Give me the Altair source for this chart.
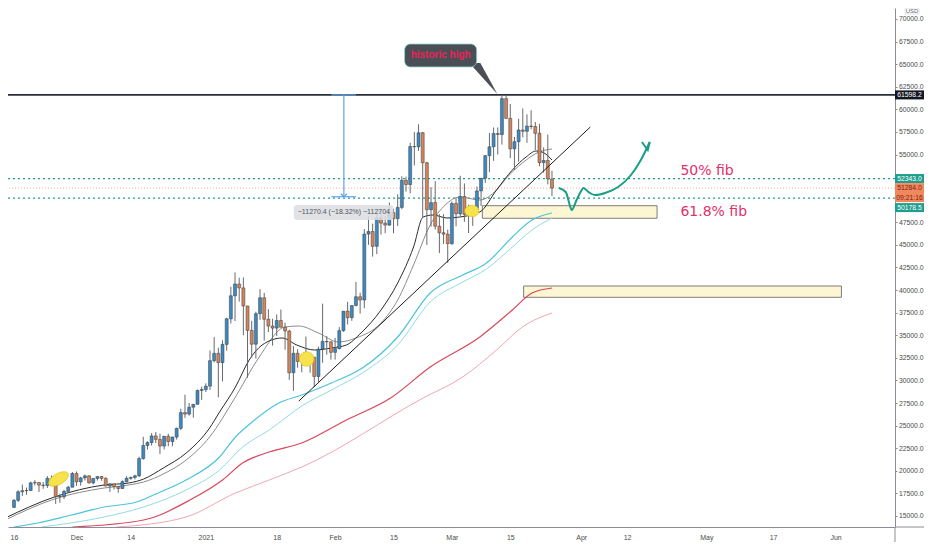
import altair as alt
import pandas as pd

# ---------------- data ----------------
START = "2020-11-16"
OPEN = [15955,16730,17680,17800,17820,18660,18700,18420,18370,19160,18740,17150,17140,17720,18180,
        19700,18780,19210,19440,18660,19150,19360,19170,18320,18550,18250,18040,18800,19170,19270,
        19440,21350,22800,23130,23860,23480,22740,23820,23240,23730,24700,26440,26280,27040,27360,28890,
        28990,29370,32190,33000,31970,33990,36820,39370,40670,40240,38240,35540,34010,37390,39150,36770,
        36020,35790,36630,35890,35470,30850,33000,32100,32270,32370,32570,30440,33470,34320,34270,
        33110,33520,35510,37670,36950,38290,39260,38900,46200,46480,44840,47990,47410,47190,48580,
        47900,49150,52150,51680,55890,55850,57410,54090,48890,49680,47070,46340,46190,
        45140,49590,48440,50350,48370,48760,48880,50970,52380,54880,55860,57330,57220,61190,59000,
        55630,56420,57720,57570,58150,58100,57350,54100,54340,52300]
HIGH = [16880,17850,18480,18150,18800,18970,18740,18760,19420,19490,19250,17450,17880,18330,19860,
        19920,19330,19580,19530,19170,19410,19420,19280,18640,18560,18270,18940,19400,19340,19570,
        21560,23770,23280,24170,24290,24100,23840,24100,23780,24770,26870,28420,27500,27390,28990,29300,
        29680,33300,34800,33620,34440,36940,40360,41950,41370,41400,38260,36600,37600,40100,39700,37890,
        36820,37300,37850,36400,35600,33800,33450,32950,34860,32900,32580,33750,38500,34900,34330,
        34700,35900,37650,38700,38300,40900,39700,46750,48200,47350,48650,48950,48200,49700,
        49000,50600,52600,52550,56300,57500,58350,57500,54200,51400,52050,48400,48400,46700,
        49800,50200,52650,51800,49450,49200,51450,52400,54900,57400,58000,58000,61598,61500,
        60600,56950,58950,60100,59450,59900,58600,58400,55800,57200,53200]
LOW = [15870,16550,17220,17350,17760,18380,17650,18000,18100,18570,16330,16460,16870,17530,18180,
       18330,18350,18920,18580,18500,18920,18900,18250,17660,17920,17580,18020,18730,19000,19050,
       19300,21230,22350,22800,23070,21850,22360,22720,22710,23460,24500,25860,26100,25880,27340,27850,
       28720,28950,32000,28130,29900,33300,36300,36570,38720,35000,30300,32530,32420,36700,34400,35360,
       33850,34900,35870,33400,30070,28850,31400,30900,31900,30850,29250,29850,31950,32850,32300,
       32300,33430,35380,36200,36600,38200,37400,37990,45000,43700,43980,46150,46300,47100,
       46300,47100,48950,50900,50700,53800,55400,48000,45000,47000,46700,44100,45100,43000,
       45000,47050,48150,47550,46300,47100,48880,49300,51850,53050,54300,55000,56100,59000,
       54600,53300,54200,56900,56300,57800,55500,53700,53000,51700,50400]
CLOSE = [16730,17680,17800,17820,18660,18700,18420,18370,19160,18740,17150,17140,17720,18180,19700,
         18780,19210,19440,18660,19150,19360,19170,18320,18550,18250,18040,18800,19170,19270,19440,
         21350,22800,23130,23860,23480,22740,23820,23240,23730,24700,26440,26280,27040,27360,28890,28990,
         29370,32190,33000,31970,33990,36820,39370,40670,40240,38240,35540,34010,37390,39150,36770,36020,
         35790,36630,35890,35470,30850,33000,32100,32270,32370,32570,30440,33470,34320,34270,33110,
         33520,35510,37670,36950,38290,39260,38900,46200,46480,44840,47990,47410,47190,48580,
         47900,49150,52150,51680,55890,55850,57410,54090,48890,49680,47070,46340,46190,45140,
         49590,48440,50350,48370,48760,48880,50970,52380,54880,55860,57330,57220,61190,59000,
         55630,56420,57720,57570,58150,58100,57350,54100,54340,52300,51284]

# moving averages (day offset from START, price)
FAST_DAY = [-2.1, 9.7, 21.6, 27.5, 31.1, 35.8, 41.3, 46.9, 49.3, 53.1, 56.4, 59.5, 64.3, 67.8, 72.1, 76.1,
            79.7, 83.2, 88.0, 92.0, 95.8, 98.1, 100.5, 103.8, 106.9, 111.7, 115.7, 119.5, 122.8, 125.2, 127.1, 129.0]
FAST_VAL = [14776, 17100, 18428, 18649, 19092, 20309, 21969, 24736, 26507, 29273, 32262, 33922, 34696, 33922,
            33368, 33590, 33922, 35250, 37795, 40783, 44767, 48087, 48309, 47977, 48087, 48641, 51075, 53289,
            54728, 55392, 55170, 54396]
SLOW_DAY = [-2.1, 9.7, 21.6, 27.5, 31.1, 35.8, 41.3, 46.9, 53.1, 58.8, 65.0, 68.3, 73.0, 77.8, 82.0, 88.0,
            92.0, 95.8, 99.8, 103.4, 106.9, 111.7, 115.7, 118.1, 121.9, 125.9, 129.0]
SLOW_VAL = [14554, 16877, 18096, 18428, 18760, 19645, 21195, 23740, 28167, 32594, 35914, 36024, 35250, 34254,
            34696, 36357, 38902, 42775, 47202, 49415, 50301, 49969, 51075, 52403, 54064, 55281, 55613]
CYAN1_DAY = [0, 5.7, 13.75, 21.6, 29.4, 33.4, 41.25, 49.3, 53.1, 57.1, 63.5, 69.0, 76.1, 83.9, 92.0, 99.8,
             107.6, 113.3, 119.5, 124.2, 129.0]
CYAN1_VAL = [13780, 14222, 15108, 15993, 16546, 17321, 18981, 21527, 23740, 25400, 27503, 28388, 29716, 31487,
             34807, 39676, 41668, 42997, 45874, 47755, 48530]
CYAN2_DAY = [6.64, 21.6, 31.06, 41.25, 49.3, 54.8, 61.2, 69.0, 76.1, 83.9, 92.0, 99.8, 107.6, 113.3, 119.5,
             124.2, 129.0]
CYAN2_VAL = [13780, 14886, 15993, 17874, 20087, 22632, 24515, 27171, 28941, 30934, 33922, 38680, 40894, 42333,
             44767, 46649, 47977]
RED_DAY = [13.99, 31.06, 42.2, 50.0, 54.8, 61.2, 69.0, 79.7, 90.3, 99.8, 111.7, 119.5, 124.2, 129.0]
RED_VAL = [13780, 14554, 16767, 18981, 20862, 22079, 23075, 25621, 28056, 31487, 34807, 37795, 39676, 40230]
PINK_DAY = [24.66, 41.25, 53.1, 61.2, 69.0, 98.1, 107.6, 115.7, 121.9, 129.0]
PINK_VAL = [13780, 14886, 17542, 18981, 20419, 28056, 30380, 33368, 35914, 37464]

# drawings
TREND_DAY = [68.3, 138.2]
TREND_VAL = [27724, 58048]
ZONE_T1 = [112.3, 122.2]
ZONE_T2 = [154.2, 198.4]
ZONE_TOP = [49338, 40451]
ZONE_BOT = [47944, 39200]
ARROW_DAY = [130.63, 132.29, 133.48, 133.71, 134.90, 135.85, 136.56, 137.74, 139.40, 141.77, 144.86,
             147.94, 150.31, 152.45]
ARROW_VAL = [51297, 50854, 49083, 48862, 49969, 50854, 51297, 50854, 50522, 50744, 51408, 52735, 54396, 56388]
HEAD_DAY = [150.55, 152.45, 151.97]
HEAD_VAL = [56388, 56388, 55502]
ELL_DAY = [10.67, 70.2, 109.8]
ELL_VAL = [19092, 32372, 48751]
FIB_TEXT = ["50% fib", "61.8% fib"]
FIB_DAY = [159.8, 159.8]
FIB_VAL = [53178, 48641]
ATH = 61598.2
FIB50 = 52343.0
FIB618 = 50178.5
LAST = 51284.0
MEAS_DAY = 79.1
MEAS_CAP = [76.1, 82.0]
MEAS_BOT = 50328
MEAS_BOX_DAY = [67.1, 91.0]
MEAS_BOX_VAL = [49415, 47755]
MEAS_TEXT = "\u221211270.4 (\u221218.32%) \u2212112704"
MEAS_TEXT_VAL = 48641
CALL_DAY = [93.65, 110.95]
CALL_VAL = [67233, 64688]
CALL_TEXT = "historic high"
CALL_TIP_DAY = 115.9
CALL_TIP_VAL = 61700
TAG_VAL = [ATH, FIB50, LAST, FIB618]
TAG_TEXT = ["61598.2", "52343.0", "51284.0", "50178.5"]
TIMER_TEXT = "09:21:16"
TICK_DATES = ["2020-11-16", "2020-12-01", "2020-12-14", "2021-01-01", "2021-01-18", "2021-02-01",
              "2021-02-15", "2021-03-01", "2021-03-15", "2021-04-01", "2021-04-12", "2021-05-01",
              "2021-05-17", "2021-06-01"]
TICK_LABELS = ["16", "Dec", "14", "2021", "18", "Feb", "15", "Mar", "15", "Apr", "12", "May", "17", "Jun"]
# axis labels that stay visible (52500 and 50000 sit under the price tags)
Y_TICKS = [15000, 17500, 20000, 22500, 25000, 27500, 30000, 32500, 35000, 37500, 40000, 42500, 45000,
           47500, 55000, 57500, 60000, 62500, 65000, 67500, 70000]

# ---------------- layout / styles ----------------
W, H = 887, 519
YMIN, YMAX = 13780, 71217
USD_PX = (YMAX - YMIN) / H
FONT = "Liberation Sans"
UP, DOWN = "#3b8ac4", "#d3845a"

BASE = pd.Timestamp(START)


def at(days):
    return [(BASE + pd.Timedelta(days=float(d))).strftime("%Y-%m-%dT%H:%M:%S") for d in days]


XS = alt.Scale(domain=[alt.DateTime(year=2020, month=11, date=15, hours=18, minutes=19),
                       alt.DateTime(year=2021, month=6, date=14, hours=1, minutes=12)], nice=False)
YS = alt.Scale(domain=[YMIN, YMAX], nice=False, zero=False)

parts = []
for d, lab in zip(TICK_DATES, TICK_LABELS):
    ts = pd.Timestamp(d)
    parts.append(f"(month(datum.value)=={ts.month - 1} && date(datum.value)=={ts.day}) ? '{lab}'")
label_expr = " : ".join(parts) + " : ''"

XAX = alt.Axis(values=[alt.DateTime(year=pd.Timestamp(d).year, month=pd.Timestamp(d).month,
                                    date=pd.Timestamp(d).day) for d in TICK_DATES],
               labelExpr=label_expr, ticks=False, grid=False, title=None, labelFontSize=7,
               labelFont=FONT, labelColor="#4a4a4a", domainColor="#8a8d96", labelPadding=6,
               labelFlush=False, labelOverlap=False)
YAX = alt.Axis(orient="right", values=Y_TICKS, format=".1f", grid=False, title=None, labelFontSize=6.8,
               labelFont=FONT, labelColor="#4a4a4a", domainColor="#8a8d96", tickColor="#8a8d96",
               tickSize=2, labelPadding=1.5, labelFlush=False, labelOverlap=False)


def X(f):
    return alt.X(f, type="temporal", scale=XS, axis=XAX)


def Y(f):
    return alt.Y(f, type="quantitative", scale=YS, axis=YAX)


# ---------------- tables ----------------
candles = pd.DataFrame({"t": at(range(len(CLOSE))), "o": OPEN, "h": HIGH, "l": LOW, "c": CLOSE})
candles["dir"] = ["up" if c >= o else "down" for o, c in zip(OPEN, CLOSE)]

ma_specs = [
    (CYAN2_DAY, CYAN2_VAL, "#93dbe6", 1.0),
    (CYAN1_DAY, CYAN1_VAL, "#4cc3dc", 1.2),
    (PINK_DAY, PINK_VAL, "#f3a6b0", 1.0),
    (RED_DAY, RED_VAL, "#d9475c", 1.2),
    (SLOW_DAY, SLOW_VAL, "#8c8c8c", 1.0),
    (FAST_DAY, FAST_VAL, "#2b2b2b", 1.0),
]

layers = []

# yellow zones
zones = pd.DataFrame({"t1": at(ZONE_T1), "t2": at(ZONE_T2), "top": ZONE_TOP, "bot": ZONE_BOT})
layers.append(alt.Chart(zones).mark_rect(fill="#fcf6d3", stroke="#7d7d7d", strokeWidth=1).encode(
    x=X("t1"), x2=alt.X2("t2"), y=Y("top"), y2=alt.Y2("bot")))

# horizontal levels
layers.append(alt.Chart(pd.DataFrame({"v": [LAST]})).mark_rule(
    color="#ef9c84", strokeWidth=0.8, strokeDash=[1, 2]).encode(y=Y("v")))
layers.append(alt.Chart(pd.DataFrame({"v": [FIB50, FIB618]})).mark_rule(
    color="#1f9e8e", strokeWidth=1.3, strokeDash=[2, 3]).encode(y=Y("v")))
layers.append(alt.Chart(pd.DataFrame({"v": [ATH]})).mark_rule(
    color="#2a2e39", strokeWidth=1.8).encode(y=Y("v")))

# moving averages
for days, vals, col, sw in ma_specs:
    df = pd.DataFrame({"t": at(days), "v": vals})
    layers.append(alt.Chart(df).mark_line(color=col, strokeWidth=sw, clip=True,
                                          interpolate="monotone").encode(x=X("t"), y=Y("v")))

# candles
layers.append(alt.Chart(candles).mark_rule(color="#666a70", strokeWidth=1).encode(
    x=X("t"), y=Y("l"), y2=alt.Y2("h")))
layers.append(alt.Chart(candles).mark_bar(size=3, stroke="#3a3a3a", strokeWidth=0.5).encode(
    x=X("t"), y=Y("o"), y2=alt.Y2("c"),
    color=alt.Color("dir:N", scale=alt.Scale(domain=["up", "down"], range=[UP, DOWN]), legend=None)))

# trend line
trend = pd.DataFrame({"t": at(TREND_DAY), "v": TREND_VAL})
layers.append(alt.Chart(trend).mark_line(color="#1e1e1e", strokeWidth=1).encode(x=X("t"), y=Y("v")))

# ellipses
ell_shapes = [("M -1 0 A 1 0.5 0 1 0 1 0 A 1 0.5 0 1 0 -1 0 Z", 480, 330),
              ("M -1 0 A 1 1 0 1 0 1 0 A 1 1 0 1 0 -1 0 Z", 210, 0),
              ("M -1 0 A 1 0.8 0 1 0 1 0 A 1 0.8 0 1 0 -1 0 Z", 200, 0)]
for (shp, sz, ang), d, v in zip(ell_shapes, ELL_DAY, ELL_VAL):
    df = pd.DataFrame({"t": at([d]), "v": [v]})
    layers.append(alt.Chart(df).mark_point(shape=shp, size=sz, angle=ang, filled=True, opacity=1,
                                           fill="#f7e24b", stroke="#d8bd10", strokeWidth=0.6).encode(
        x=X("t"), y=Y("v")))

# green arrow
arrow = pd.DataFrame({"t": at(ARROW_DAY), "v": ARROW_VAL})
layers.append(alt.Chart(arrow).mark_line(color="#1a9e85", strokeWidth=2, interpolate="monotone").encode(
    x=X("t"), y=Y("v")))
head = pd.DataFrame({"t": at(HEAD_DAY), "v": HEAD_VAL})
layers.append(alt.Chart(head).mark_line(color="#1a9e85", strokeWidth=2).encode(x=X("t"), y=Y("v")))

# fib labels
fib = pd.DataFrame({"t": at(FIB_DAY), "v": FIB_VAL, "s": FIB_TEXT})
layers.append(alt.Chart(fib).mark_text(align="left", baseline="middle", font="DejaVu Sans", fontSize=14,
                                       color="#e2306c").encode(x=X("t"), y=Y("v"), text="s:N"))

# measurement tool
meas_v = pd.DataFrame({"t": at([MEAS_DAY]), "a": [ATH], "b": [MEAS_BOT]})
layers.append(alt.Chart(meas_v).mark_rule(color="#5ea3ec", strokeWidth=1.2).encode(
    x=X("t"), y=Y("a"), y2=alt.Y2("b")))
meas_c = pd.DataFrame({"t1": at([MEAS_CAP[0]] * 2), "t2": at([MEAS_CAP[1]] * 2), "v": [ATH, MEAS_BOT]})
layers.append(alt.Chart(meas_c).mark_rule(color="#5ea3ec", strokeWidth=1.2).encode(
    x=X("t1"), x2=alt.X2("t2"), y=Y("v")))
meas_p = pd.DataFrame({"t": at([MEAS_DAY]), "v": [MEAS_BOT]})
layers.append(alt.Chart(meas_p).mark_point(shape="M -1 -1 L 0 0 L 1 -1", size=36, filled=False, opacity=1,
                                           color="#5ea3ec", strokeWidth=1.2).encode(x=X("t"), y=Y("v")))
meas_box = pd.DataFrame({"t1": at([MEAS_BOX_DAY[0]]), "t2": at([MEAS_BOX_DAY[1]]),
                         "a": [MEAS_BOX_VAL[0]], "b": [MEAS_BOX_VAL[1]]})
layers.append(alt.Chart(meas_box).mark_rect(fill="#dcdee3", opacity=0.88, cornerRadius=3).encode(
    x=X("t1"), x2=alt.X2("t2"), y=Y("a"), y2=alt.Y2("b")))
meas_t = pd.DataFrame({"t": at([MEAS_DAY]), "v": [MEAS_TEXT_VAL], "s": [MEAS_TEXT]})
layers.append(alt.Chart(meas_t).mark_text(align="center", baseline="middle", font=FONT, fontSize=7,
                                          color="#50535e").encode(x=X("t"), y=Y("v"), text="s:N"))

# callout
tip = pd.DataFrame({"t": at([CALL_TIP_DAY]), "v": [CALL_TIP_VAL]})
layers.append(alt.Chart(tip).mark_point(shape="M 0 0 L -2.8 -3.1 L -1.7 -3.1 Z", size=400, filled=True,
                                        opacity=1, fill="#4a4f55").encode(x=X("t"), y=Y("v")))
call = pd.DataFrame({"t1": at([CALL_DAY[0]]), "t2": at([CALL_DAY[1]]), "a": [CALL_VAL[0]], "b": [CALL_VAL[1]]})
layers.append(alt.Chart(call).mark_rect(fill="#4a4f55", stroke="#8fd9d2", strokeWidth=0.8,
                                        cornerRadius=6).encode(
    x=X("t1"), x2=alt.X2("t2"), y=Y("a"), y2=alt.Y2("b")))
call_t = pd.DataFrame({"t": at([(CALL_DAY[0] + CALL_DAY[1]) / 2]), "v": [(CALL_VAL[0] + CALL_VAL[1]) / 2],
                       "s": [CALL_TEXT]})
layers.append(alt.Chart(call_t).mark_text(align="center", baseline="middle", font=FONT, fontSize=10,
                                          fontWeight="bold", color="#e8245a").encode(
    x=X("t"), y=Y("v"), text="s:N"))

# frame extensions
dummy = pd.DataFrame({"a": [0]})
layers.append(alt.Chart(dummy).mark_rule(color="#8a8d96", strokeWidth=1).encode(
    x=alt.value(W), x2=alt.value(W + 29), y=alt.value(H)))
layers.append(alt.Chart(dummy).mark_rule(color="#8a8d96", strokeWidth=1).encode(
    x=alt.value(W), y=alt.value(H), y2=alt.value(H + 15)))

# price tags on the axis (pixel offsets of each box relative to its level)
tag_geom = [(-4.5, 4.5, "#131722", "#ffffff"), (-4.5, 4.5, "#1f9e8e", "#ffffff"),
            (-5, 14, "#f0885f", "#7b1f0e"), (5, 14, "#1f9e8e", "#ffffff")]
tags = pd.DataFrame({
    "top": [v - g[0] * USD_PX for v, g in zip(TAG_VAL, tag_geom)],
    "bot": [v - g[1] * USD_PX for v, g in zip(TAG_VAL, tag_geom)],
    "mid": [v - (g[0] + g[1]) / 2 * USD_PX if i != 2 else v for i, (v, g) in enumerate(zip(TAG_VAL, tag_geom))],
    "s": TAG_TEXT,
    "fill": [g[2] for g in tag_geom],
    "ink": [g[3] for g in tag_geom],
})
layers.append(alt.Chart(tags).mark_rect().encode(
    x=alt.value(W), x2=alt.value(W + 29), y=Y("top"), y2=alt.Y2("bot"),
    fill=alt.Fill("fill:N", scale=None)))
layers.append(alt.Chart(tags).mark_text(align="center", baseline="middle", font=FONT, fontSize=6.8).encode(
    x=alt.value(W + 14.5), y=Y("mid"), text="s:N", color=alt.Color("ink:N", scale=None)))
timer = pd.DataFrame({"v": [LAST - 10 * USD_PX], "s": [TIMER_TEXT]})
layers.append(alt.Chart(timer).mark_text(align="center", baseline="middle", font=FONT, fontSize=6.8,
                                         color="#7b1f0e").encode(x=alt.value(W + 14.5), y=Y("v"), text="s:N"))

# currency label
layers.append(alt.Chart(dummy).mark_rect(fill="#ffffff", stroke="#cfd2d8", strokeWidth=0.6,
                                         cornerRadius=1).encode(
    x=alt.value(W + 10), x2=alt.value(W + 24), y=alt.value(0), y2=alt.value(6)))
layers.append(alt.Chart(dummy).mark_text(align="center", baseline="middle", font=FONT, fontSize=6,
                                         color="#666666").encode(
    x=alt.value(W + 17), y=alt.value(3), text=alt.value("USD")))

chart = alt.layer(*layers).properties(
    width=W, height=H,
    autosize=alt.AutoSizeParams(type="none"),
    padding={"left": 0, "top": 0, "right": 29, "bottom": 15},
    background="#ffffff",
).configure_view(strokeWidth=0)

chart.save("out.html", embed_options={"renderer": "svg", "actions": False})
